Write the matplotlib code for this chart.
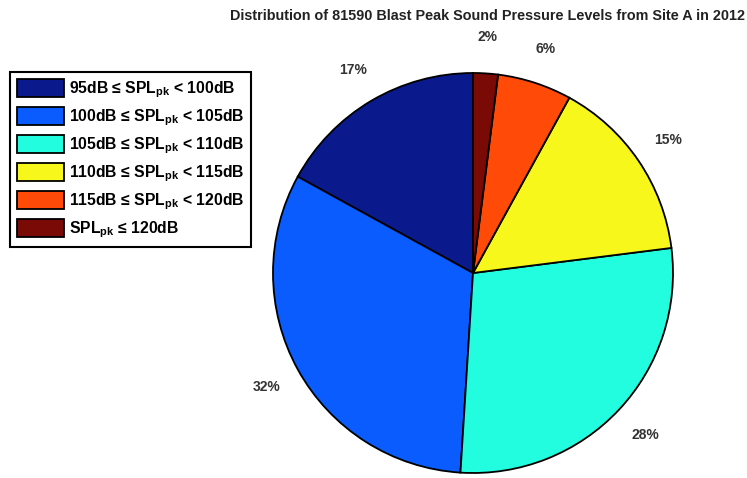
import matplotlib.pyplot as plt

plt.rcParams['font.family'] = ['Liberation Sans', 'DejaVu Sans']
plt.rcParams['mathtext.fontset'] = 'custom'
plt.rcParams['mathtext.rm'] = 'Liberation Sans'
plt.rcParams['mathtext.bf'] = 'Liberation Sans:bold'

labels = [r'95dB ≤ SPL$_{\mathbf{pk}}$ < 100dB',
          r'100dB ≤ SPL$_{\mathbf{pk}}$ < 105dB',
          r'105dB ≤ SPL$_{\mathbf{pk}}$ < 110dB',
          r'110dB ≤ SPL$_{\mathbf{pk}}$ < 115dB',
          r'115dB ≤ SPL$_{\mathbf{pk}}$ < 120dB',
          r'SPL$_{\mathbf{pk}}$ ≤ 120dB']
percent = [17, 32, 28, 15, 6, 2]
colors = ['#0a1a8c', '#0a5cff', '#22fde0', '#f7f71c', '#ff4a08', '#7a0a05']

fig = plt.figure(figsize=(7.47, 4.78), dpi=100)

# pie axes: centre ~ (473,273)px, radius ~200px
cx, cy, r = 473 / 747, 1 - 273 / 478, 200
ax = fig.add_axes([cx - r / 747, cy - r / 478, 2 * r / 747, 2 * r / 478])
wedges, texts = ax.pie(percent, colors=colors, startangle=90, counterclock=True,
                       labels=[f'{p}%' for p in percent], labeldistance=1.18,
                       wedgeprops=dict(edgecolor='black', linewidth=1.3),
                       textprops=dict(fontsize=10, fontweight='bold', color='#333333'))
for t in texts:
    t.set_horizontalalignment('center')
    t.set_verticalalignment('center')
ax.set_xlim(-1, 1)
ax.set_ylim(-1, 1)
ax.set_aspect('auto')
ax.axis('off')

fig.text(487 / 747, 1 - 16 / 478,
         'Distribution of 81590 Blast Peak Sound Pressure Levels from Site A in 2012',
         ha='center', va='center', fontsize=10.4, fontweight='bold', color='#222222')

leg = fig.legend(wedges, labels, loc='upper left', bbox_to_anchor=(10 / 747, 1 - 72 / 478),
                 prop=dict(weight='bold', size=11.3), handlelength=3.0, handleheight=1.4,
                 handletextpad=0.3, labelspacing=0.45, borderpad=0.45, fancybox=False,
                 framealpha=1, borderaxespad=0)
leg.get_frame().set_edgecolor('black')
leg.get_frame().set_linewidth(1.5)

fig.savefig('out.png', dpi=100)
